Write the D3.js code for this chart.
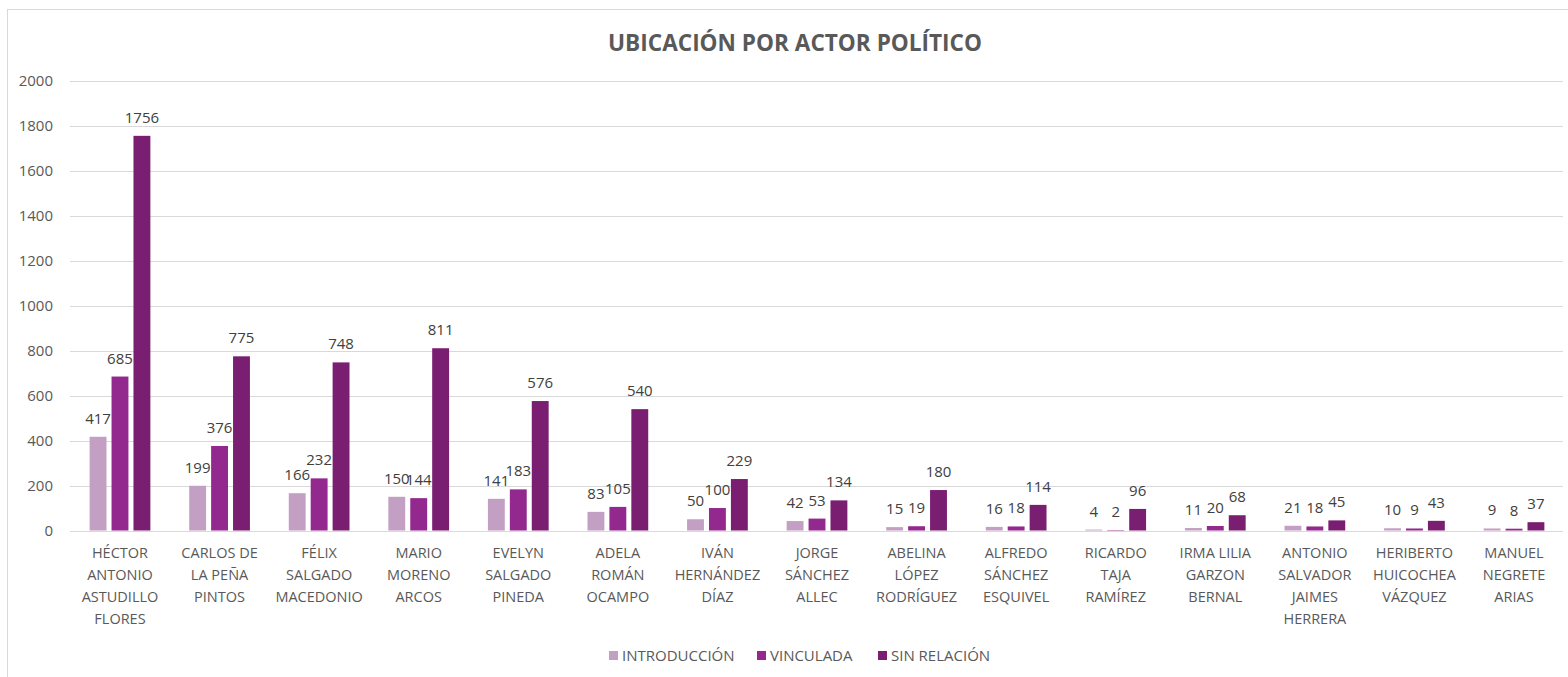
<!DOCTYPE html>
<html>
<head>
<meta charset="utf-8">
<script src="https://cdn.jsdelivr.net/npm/d3@7"></script>
<style>
  body { margin: 0; background: #fff; }
  svg { display: block; font-family: "Open Sans", "Noto Sans", sans-serif; }
</style>
</head>
<body>
<script>
// datos
var categorias = [
  ["HÉCTOR", "ANTONIO", "ASTUDILLO", "FLORES"],
  ["CARLOS DE", "LA PEÑA", "PINTOS"],
  ["FÉLIX", "SALGADO", "MACEDONIO"],
  ["MARIO", "MORENO", "ARCOS"],
  ["EVELYN", "SALGADO", "PINEDA"],
  ["ADELA", "ROMÁN", "OCAMPO"],
  ["IVÁN", "HERNÁNDEZ", "DÍAZ"],
  ["JORGE", "SÁNCHEZ", "ALLEC"],
  ["ABELINA", "LÓPEZ", "RODRÍGUEZ"],
  ["ALFREDO", "SÁNCHEZ", "ESQUIVEL"],
  ["RICARDO", "TAJA", "RAMÍREZ"],
  ["IRMA LILIA", "GARZON", "BERNAL"],
  ["ANTONIO", "SALVADOR", "JAIMES", "HERRERA"],
  ["HERIBERTO", "HUICOCHEA", "VÁZQUEZ"],
  ["MANUEL", "NEGRETE", "ARIAS"]
];
var series = ["INTRODUCCIÓN", "VINCULADA", "SIN RELACIÓN"];
var introduccion = [417, 199, 166, 150, 141, 83, 50, 42, 15, 16, 4, 11, 21, 10, 9];
var vinculada    = [685, 376, 232, 144, 183, 105, 100, 53, 19, 18, 2, 20, 18, 9, 8];
var sinRelacion  = [1756, 775, 748, 811, 576, 540, 229, 134, 180, 114, 96, 68, 45, 43, 37];
var yTicks = [0, 200, 400, 600, 800, 1000, 1200, 1400, 1600, 1800, 2000];
var colores = ["#C3A0C3", "#93298F", "#7A1E72"];

var valores = [introduccion, vinculada, sinRelacion];
var W = 1568, H = 677;

var svg = d3.select("body").append("svg")
  .attr("width", W)
  .attr("height", H);

// marco
svg.append("rect")
  .attr("x", 7.5).attr("y", 9.5)
  .attr("width", W).attr("height", H)
  .attr("fill", "#fff")
  .attr("stroke", "#d9d9d9");

// titulo
svg.append("text")
  .attr("x", 795).attr("y", 51)
  .attr("text-anchor", "middle")
  .attr("font-size", "22.6px")
  .attr("font-weight", "bold")
  .attr("fill", "#595959")
  .text("UBICACIÓN POR ACTOR POLÍTICO");

var x0 = d3.scaleBand()
  .domain(d3.range(categorias.length))
  .range([70.2, 1563.8])
  .paddingInner(0.39)
  .paddingOuter(0.195);
var x1 = d3.scaleBand()
  .domain(d3.range(series.length))
  .range([0, x0.bandwidth()])
  .paddingInner(0.23);
var y = d3.scaleLinear()
  .domain([0, 2000])
  .range([530.5, 81]);

// rejilla
svg.append("g")
  .selectAll("line")
  .data(yTicks)
  .join("line")
  .attr("x1", 70).attr("x2", 1563)
  .attr("y1", function(d){ return Math.round(y(d)) + 0.5; })
  .attr("y2", function(d){ return Math.round(y(d)) + 0.5; })
  .attr("stroke", "#d9d9d9")
  .attr("stroke-width", 1);

// eje Y
var yAxis = d3.axisLeft(y).tickValues(yTicks).tickFormat(d3.format("d")).tickSize(0).tickPadding(0);
var gy = svg.append("g")
  .attr("transform", "translate(53,0)")
  .call(yAxis);
gy.select(".domain").remove();
gy.selectAll("text")
  .attr("font-size", "15px")
  .attr("font-family", "Open Sans, Noto Sans, sans-serif")
  .attr("fill", "#595959");

// barras
var grupos = svg.append("g")
  .selectAll("g")
  .data(categorias)
  .join("g")
  .attr("transform", function(d, i){ return "translate(" + x0(i) + ",0)"; });

series.forEach(function(s, k){
  grupos.append("rect")
    .attr("x", x1(k))
    .attr("width", x1.bandwidth())
    .attr("y", function(d, i){ return y(valores[k][i]); })
    .attr("height", function(d, i){ return y(0) - y(valores[k][i]); })
    .attr("fill", colores[k]);
  grupos.append("text")
    .attr("x", x1(k) + x1.bandwidth() / 2)
    .attr("y", function(d, i){ return y(valores[k][i]) - 13; })
    .attr("text-anchor", "middle")
    .attr("font-size", "15px")
    .attr("fill", "#404040")
    .text(function(d, i){ return valores[k][i]; });
});

// etiquetas de categoria
var etiquetas = svg.append("g")
  .selectAll("text")
  .data(categorias)
  .join("text")
  .attr("x", function(d, i){ return x0(i) + x0.bandwidth() / 2; })
  .attr("y", 558)
  .attr("text-anchor", "middle")
  .attr("font-size", "14.5px")
  .attr("fill", "#595959");
etiquetas.selectAll("tspan")
  .data(function(d){ return d; })
  .join("tspan")
  .attr("x", function(){ return d3.select(this.parentNode).attr("x"); })
  .attr("dy", function(d, j){ return j === 0 ? 0 : 22; })
  .text(function(d){ return d; });

// leyenda
var legX = [609, 757, 878];
var leyenda = svg.append("g")
  .selectAll("g")
  .data(series)
  .join("g")
  .attr("transform", function(d, i){ return "translate(" + legX[i] + ",651)"; });
leyenda.append("rect")
  .attr("width", 9).attr("height", 9)
  .attr("fill", function(d, i){ return colores[i]; });
leyenda.append("text")
  .attr("x", 13).attr("y", 10)
  .attr("font-size", "15px")
  .attr("fill", "#595959")
  .text(function(d){ return d; });
</script>
</body>
</html>
